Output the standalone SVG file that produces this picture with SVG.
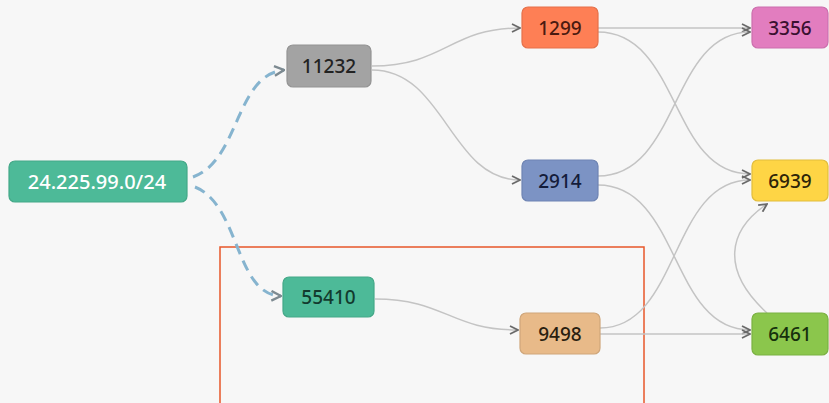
<svg xmlns="http://www.w3.org/2000/svg" width="829" height="403" viewBox="0 0 829 403">
  <style>
    .node rect { stroke-width: 1.2; }
    .node text { font-family: "Noto Sans", "Open Sans", "DejaVu Sans", sans-serif; font-size: 19px; font-weight: 500; text-anchor: middle; dominant-baseline: central; fill: #1e1e1e; }
    .edge { fill: none; stroke: #c4c4c4; stroke-width: 1.5; marker-end: url(#arrow); }
    .dash { fill: none; stroke: #86b4cf; stroke-width: 3; stroke-dasharray: 11 7; marker-end: url(#arrowBig); }
  </style>
  <defs>
    <marker id="arrow" viewBox="0 0 10 10" refX="9" refY="5" markerWidth="10" markerHeight="10" markerUnits="userSpaceOnUse" orient="auto">
      <path d="M1,1 L9,5 L1,9" fill="none" stroke="#6a6a6a" stroke-width="1.8"/>
    </marker>
    <marker id="arrowBig" viewBox="0 0 10 10" refX="9" refY="5" markerWidth="12" markerHeight="12" markerUnits="userSpaceOnUse" orient="auto">
      <path d="M1,1 L9,5 L1,9" fill="none" stroke="#7d8a91" stroke-width="2"/>
    </marker>
  </defs>
  <rect width="829" height="403" fill="#f7f7f7"/>

  <!-- highlight frame -->
  <rect x="220" y="247" width="424" height="170" fill="none" stroke="#e8572a" stroke-width="1.5"/>

  <g id="connectors">
    <path class="dash" d="M193,177 C240,160 235,75 284,70"/>
    <path class="dash" d="M195,187 C240,205 235,295 281,296"/>
    <path class="edge" d="M372,66 C445,66 450,28 520,28"/>
    <path class="edge" d="M372,70 C445,70 450,180 520,180"/>
    <path class="edge" d="M598,28 L750,28"/>
    <path class="edge" d="M598,32 C680,32 670,174 750,174"/>
    <path class="edge" d="M598,176 C680,176 670,32 750,32"/>
    <path class="edge" d="M598,185 C680,185 670,330 750,330"/>
    <path class="edge" d="M375,299 C445,299 450,330 518,330"/>
    <path class="edge" d="M600,328 C680,328 670,180 750,180"/>
    <path class="edge" d="M600,334 L750,334"/>
    <path class="edge" d="M767,313 C720,270 728,230 767,204"/>
  </g>

  <g id="n-prefix" class="node">
    <rect x="9" y="161" width="178" height="41" rx="6" fill="#4dba98" stroke="#44a888"/>
    <text x="97" y="181.5" style="fill:#ffffff;font-size:20px">24.225.99.0/24</text>
  </g>
  <g id="n-11232" class="node">
    <rect x="287" y="45" width="84" height="42" rx="6" fill="#a3a3a3" stroke="#949494"/>
    <text x="329" y="66" style="fill:#222222">11232</text>
  </g>
  <g id="n-55410" class="node">
    <rect x="283" y="277" width="91" height="40" rx="6" fill="#4dba98" stroke="#44a888"/>
    <text x="328.5" y="297" style="fill:#123a2e">55410</text>
  </g>
  <g id="n-1299" class="node">
    <rect x="522" y="7" width="76" height="41" rx="6" fill="#fe7f55" stroke="#e5714a"/>
    <text x="560" y="27.5" style="fill:#4a1a10">1299</text>
  </g>
  <g id="n-2914" class="node">
    <rect x="522" y="160" width="76" height="41" rx="6" fill="#7c93c4" stroke="#6e84b3"/>
    <text x="560" y="180.5" style="fill:#141c3a">2914</text>
  </g>
  <g id="n-9498" class="node">
    <rect x="520" y="313" width="80" height="41" rx="6" fill="#e8ba89" stroke="#cfa67a"/>
    <text x="560" y="333.5" style="fill:#2a1e10">9498</text>
  </g>
  <g id="n-3356" class="node">
    <rect x="752" y="7" width="76" height="41" rx="6" fill="#e27dbf" stroke="#cc6fad"/>
    <text x="790" y="27.5" style="fill:#3a1030">3356</text>
  </g>
  <g id="n-6939" class="node">
    <rect x="752" y="160" width="76" height="41" rx="6" fill="#fed545" stroke="#e2bd3d"/>
    <text x="790" y="180.5" style="fill:#2e2408">6939</text>
  </g>
  <g id="n-6461" class="node">
    <rect x="752" y="313" width="76" height="42" rx="6" fill="#8bc64c" stroke="#7bb142"/>
    <text x="790" y="334" style="fill:#16300c">6461</text>
  </g>
</svg>
